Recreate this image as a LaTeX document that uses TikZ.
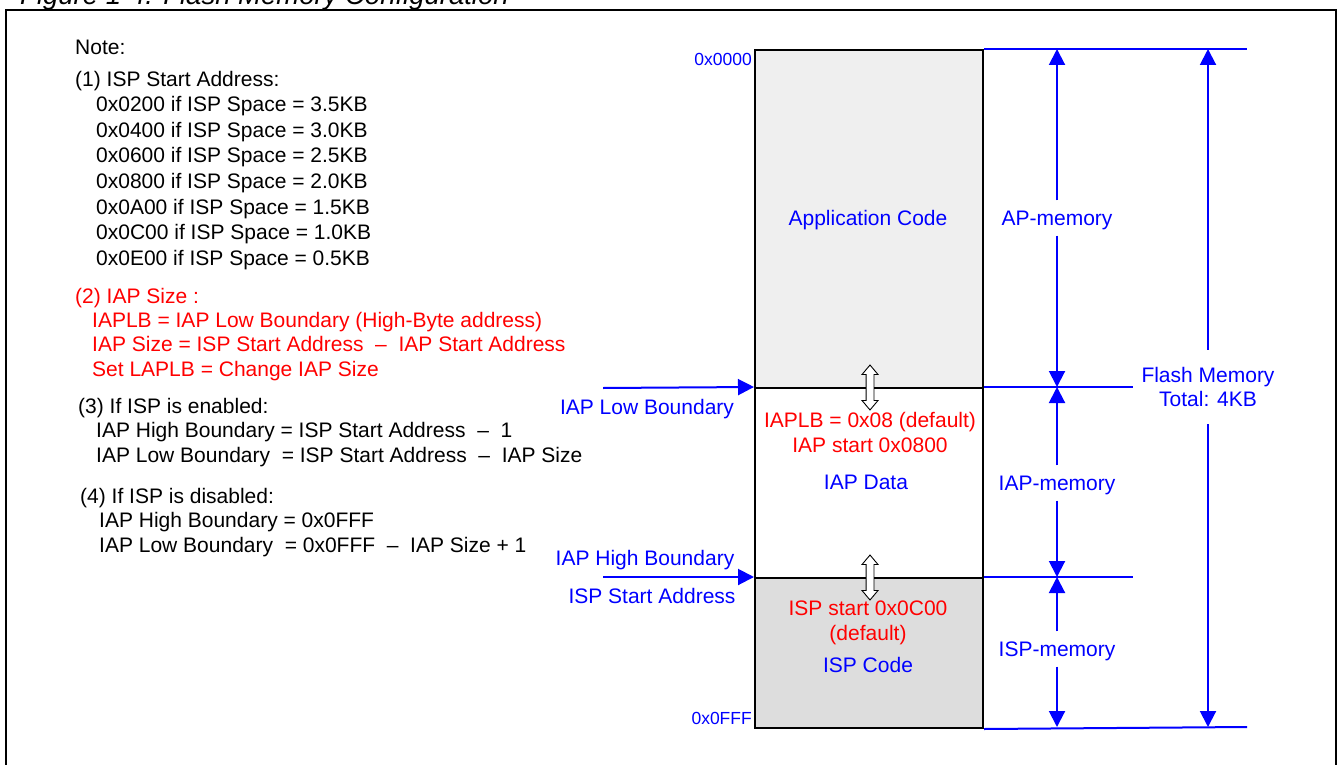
\documentclass[tikz,border=0pt]{standalone}
\usepackage{fontspec}
\setmainfont{Liberation Sans}
\usetikzlibrary{arrows.meta,shapes.arrows}
\definecolor{mblue}{RGB}{0,0,255}
\definecolor{mred}{RGB}{255,0,0}
\definecolor{apfill}{RGB}{239,239,239}
\definecolor{ispfill}{RGB}{221,221,221}
\begin{document}
\begin{tikzpicture}[x=1pt,y=-1pt,
  txt/.style={font=\fontsize{21}{25}\selectfont, inner sep=0pt, text height=15pt, text depth=0pt},
  note/.style={txt, anchor=west},
  rnote/.style={note, text=mred},
  blab/.style={txt, text=mblue},
  rlab/.style={txt, text=mred},
  addr/.style={font=\fontsize{17.5}{20}\selectfont, inner sep=0pt, text height=12.6pt, text depth=0pt, text=mblue, anchor=east},
  dimlab/.style={blab, inner ysep=10pt},
  block/.style={draw=black, line width=2pt, minimum width=228pt, anchor=north west, inner sep=0pt},
  bline/.style={draw=mblue, line width=2pt},
  barrow/.style={draw=mblue, line width=2pt, -{Triangle[length=16pt,width=16pt]}},
  dblarrow/.style={double arrow, draw=black, fill=white, line width=0.9pt, rotate=90, minimum height=45pt, inner sep=3.5pt, double arrow head extend=4pt, double arrow tip angle=80}
]
\useasboundingbox (0,0) rectangle (1338,765);
\begin{scope}
\clip (0,0) rectangle (1338,765);
\node[anchor=base west, inner sep=0pt, font=\itshape\fontsize{27.5}{30}\selectfont] (cap) at (20,5) {Figure 1-4. Flash Memory Configuration};
\draw[line width=2pt] (6,770) -- (6,10) -- (1336,10) -- (1336,770);
\end{scope}

% memory blocks
\node[block, fill=apfill, minimum height=338pt] (ap) at (754,49) {};
\node[block, fill=white, minimum height=190pt] (iap) at (754,387) {};
\node[block, fill=ispfill, minimum height=150pt] (isp) at (754,577) {};

% coordinates on the right
\coordinate (topR) at (1247,49);
\coordinate (lowR) at (1133,387);
\coordinate (highR) at (1133,577);
\coordinate (botR) at (1247,727);
\draw[bline] (ap.north east) -- (topR);
\draw[bline] (iap.north east) -- (lowR);
\draw[bline] (isp.north east) -- (highR);
\draw[bline] (isp.south east) -- (botR);

% address labels
\node[addr] (a0) at (752,59) {0x0000};
\node[addr] (a1) at (752,718) {0x0FFF};

% texts inside blocks
\node[blab] (apc) at (868,218) {Application Code};
\node[rlab] (iaplb) at (870,420) {IAPLB = 0x08 (default)};
\node[rlab] (iapst) at (870,445) {IAP start 0x0800};
\node[blab] (iapd) at (866,482) {IAP Data};
\node[rlab] (ispst) at (868,608) {ISP start 0x0C00};
\node[rlab] (ispdf) at (868,633) {(default)};
\node[blab] (ispc) at (868,665) {ISP Code};

% double arrows
\node[dblarrow] (d1) at (870,387.5) {};
\node[dblarrow] (d2) at (870,577.5) {};

% left boundary arrows
\coordinate (lowL) at (603,388);
\coordinate (highL) at (603,577);
\draw[barrow] (lowL) -- (iap.north west);
\draw[barrow] (highL) -- (isp.north west);
\node[blab] (lowlab) at (647,407) {IAP Low Boundary};
\node[blab] (highlab) at (645,558) {IAP High Boundary};
\node[blab] (isplab) at (652,596) {ISP Start Address};

% dimension arrows
\coordinate (d1t) at (1057,49);
\coordinate (d1b) at (1057,387);
\coordinate (d2b) at (1057,577);
\coordinate (d3b) at (1057,727);
\node[dimlab] (apm) at (1057,218) {AP-memory};
\node[dimlab] (iapm) at (1057,483) {IAP-memory};
\node[dimlab] (ispm) at (1057,649) {ISP-memory};
\draw[barrow] (apm) -- (d1t);
\draw[barrow] (apm) -- (d1b);
\draw[barrow] (iapm) -- (d1b);
\draw[barrow] (iapm) -- (d2b);
\draw[barrow] (ispm) -- (d2b);
\draw[barrow] (ispm) -- (d3b);

\coordinate (ft) at (1208,49);
\coordinate (fb) at (1208,727);
\node[font=\fontsize{21}{23.5}\selectfont, text=mblue, align=center, inner xsep=0pt, inner ysep=0pt, minimum height=74pt] (flash) at (1208,387) {Flash Memory\\Total: 4KB};
\draw[barrow] (flash) -- (ft);
\draw[barrow] (flash) -- (fb);

% notes
\node[note] (n0) at (75,47) {Note:};
\node[note] (n1) at (75,79) {(1) ISP Start Address:};
\node[note] (n11) at (96,104) {0x0200 if ISP Space = 3.5KB};
\node[note] (n12) at (96,130) {0x0400 if ISP Space = 3.0KB};
\node[note] (n13) at (96,155) {0x0600 if ISP Space = 2.5KB};
\node[note] (n14) at (96,181) {0x0800 if ISP Space = 2.0KB};
\node[note] (n15) at (96,207) {0x0A00 if ISP Space = 1.5KB};
\node[note] (n16) at (96,232) {0x0C00 if ISP Space = 1.0KB};
\node[note] (n17) at (96,258) {0x0E00 if ISP Space = 0.5KB};
\node[rnote] (n2) at (75,296) {(2) IAP Size :};
\node[rnote] (n21) at (92,320) {IAPLB = IAP Low Boundary (High-Byte address)};
\node[rnote] (n22) at (92,344) {IAP Size = ISP Start Address~~–~~IAP Start Address};
\node[rnote] (n23) at (92,369) {Set LAPLB = Change IAP Size};
\node[note] (n3) at (78,406) {(3) If ISP is enabled:};
\node[note] (n31) at (96,430) {IAP High Boundary = ISP Start Address~~–~~1};
\node[note] (n32) at (96,455) {IAP Low Boundary~~= ISP Start Address~~–~~IAP Size};
\node[note] (n4) at (80,496) {(4) If ISP is disabled:};
\node[note] (n41) at (99,520) {IAP High Boundary = 0x0FFF};
\node[note] (n42) at (99,545) {IAP Low Boundary~~= 0x0FFF~~–~~IAP Size + 1};
\end{tikzpicture}
\end{document}
